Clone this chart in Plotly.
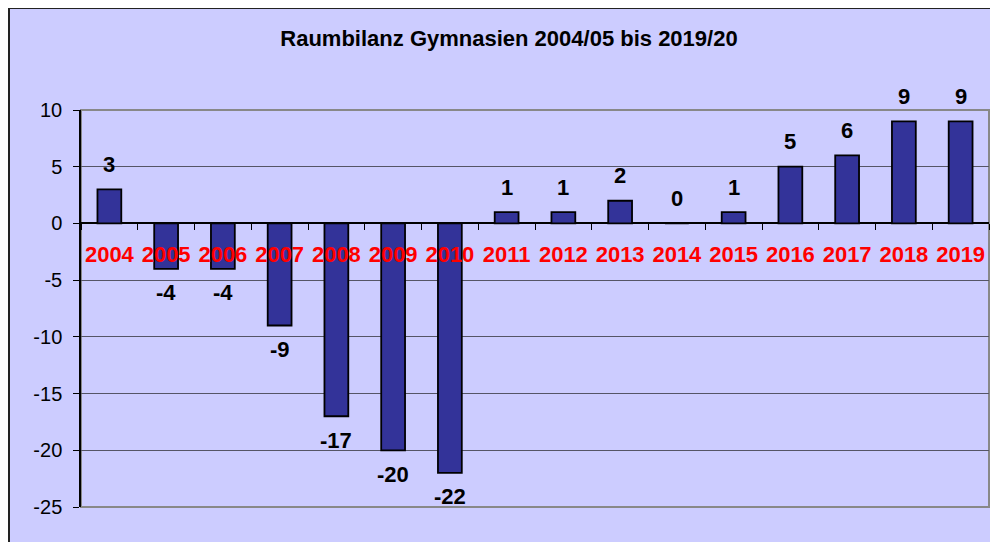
import plotly.graph_objects as go

years = ["2004", "2005", "2006", "2007", "2008", "2009", "2010", "2011",
         "2012", "2013", "2014", "2015", "2016", "2017", "2018", "2019"]
values = [3, -4, -4, -9, -17, -20, -22, 1, 1, 2, 0, 1, 5, 6, 9, 9]
y_ticks = [10, 5, 0, -5, -10, -15, -20, -25]
title_text = "Raumbilanz Gymnasien 2004/05 bis 2019/20"

W, H = 998, 542
OFF = 8  # page body margin
L, R, T, B = 81 - OFF, 989 - OFF, 110 - OFF, 507 - OFF
FONT = "Liberation Sans, Arial, sans-serif"
LAV = "#CCCCFF"

def px_x(p):
    return (p - L) / (R - L)

def px_y(p):
    return (B - p) / (B - T)

fig = go.Figure()
fig.add_trace(go.Bar(
    x=years, y=values,
    marker=dict(color="#333399", line=dict(color="black", width=1.8)),
    hoverinfo="x+y",
))

ymin, ymax = -25, 10
for i, v in enumerate(values):
    fig.add_annotation(
        x=i, y=v, text=str(v), showarrow=False,
        yshift=25 if v >= 0 else -24,
        font=dict(family=FONT, size=22, color="black", weight="bold"),
    )

fig.update_layout(
    width=W, height=H,
    margin=dict(l=L, r=W - R, t=T, b=H - B, pad=0),
    paper_bgcolor="white",
    plot_bgcolor=LAV,
    showlegend=False,
    bargap=0.58,
    title=dict(
        text="<b>" + title_text + "</b>",
        x=(509 - OFF) / W, xanchor="center", xref="container",
        y=1 - (38 - OFF) / H, yanchor="middle", yref="container",
        font=dict(family=FONT, size=22, color="black"),
    ),
    xaxis=dict(
        type="category",
        categoryorder="array", categoryarray=years,
        range=[-0.5, len(years) - 0.5],
        anchor="free",
        position=(0 - ymin) / (ymax - ymin),
        showline=False, showgrid=False, zeroline=False,
        ticks="outside", tickson="boundaries", ticklen=6,
        tickcolor="black", tickwidth=1, tickangle=0,
        tickfont=dict(family=FONT, size=22, color="#FF0000", weight="bold"),
        ticklabelstandoff=16,
    ),
    yaxis=dict(
        range=[ymin, ymax],
        tickvals=y_ticks,
        ticktext=[str(t) for t in y_ticks],
        showline=True, linecolor="black", linewidth=1.5,
        ticks="outside", ticklen=6, tickcolor="black",
        showgrid=True, gridcolor="#555566", gridwidth=1,
        zeroline=True, zerolinecolor="black", zerolinewidth=1.5,
        tickfont=dict(family=FONT, size=20, color="black"),
        ticklabelstandoff=7,
    ),
    shapes=[
        dict(type="rect", xref="paper", yref="paper", layer="below",
             x0=px_x(1), x1=px_x(1010), y0=px_y(560), y1=px_y(0),
             fillcolor=LAV, line=dict(color="#222222", width=2)),
        dict(type="rect", xref="paper", yref="paper", layer="below",
             x0=0, x1=1, y0=0, y1=1,
             fillcolor="rgba(0,0,0,0)", line=dict(color="#888888", width=2)),
    ],
)

fig.write_html("out.html")
